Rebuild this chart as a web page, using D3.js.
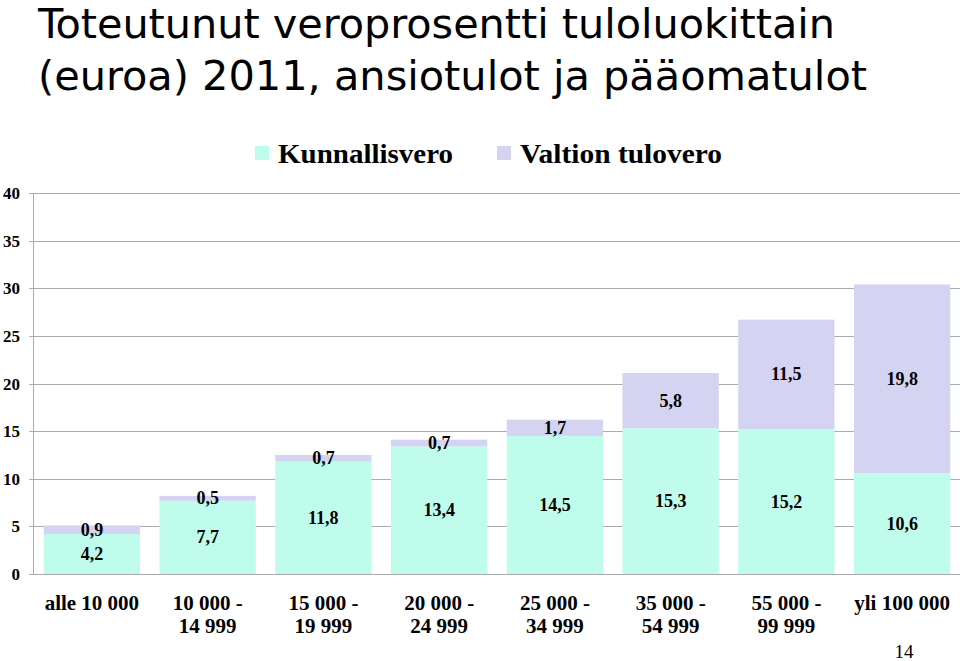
<!DOCTYPE html>
<html><head><meta charset="utf-8">
<script src="https://cdn.jsdelivr.net/npm/d3@7"></script>
<style>body{margin:0;background:#fff}svg{display:block}</style>
</head><body>
<svg id="c" width="960" height="661"></svg>
<script>
const categories = [["alle 10 000"],["10 000 -","14 999"],["15 000 -","19 999"],["20 000 -","24 999"],["25 000 -","34 999"],["35 000 -","54 999"],["55 000 -","99 999"],["yli 100 000"]];
const kunnallisvero = [4.2, 7.7, 11.8, 13.4, 14.5, 15.3, 15.2, 10.6];
const valtion = [0.9, 0.5, 0.7, 0.7, 1.7, 5.8, 11.5, 19.8];
const seriesNames = ["Kunnallisvero", "Valtion tulovero"];
const yTicks = [0, 5, 10, 15, 20, 25, 30, 35, 40];
const titleLines = ["Toteutunut veroprosentti tuloluokittain", "(euroa) 2011, ansiotulot ja pääomatulot"];
const pageNumber = "14";

const colors = ["#c0fcec", "#d4d4f2"];
const svg = d3.select("#c");
const x = d3.scaleBand().domain(d3.range(categories.length)).range([34, 960]).paddingInner(0.168).paddingOuter(0.084);
const y = d3.scaleLinear().domain([0, 40]).range([574, 193]);
const fmt = v => String(v).replace(".", ",");

// title
const tl = [[38, 797], [90, 829]];
titleLines.forEach((t, i) => {
  svg.append("text").attr("x", 38).attr("y", tl[i][0]).attr("textLength", tl[i][1]).attr("lengthAdjust", "spacingAndGlyphs")
    .style("font-family", "'DejaVu Sans Condensed','DejaVu Sans',sans-serif").style("font-size", "40px").attr("fill", "#000").text(t);
});

// gridlines & y axis
const g = svg.append("g");
g.selectAll("line.grid").data(yTicks).join("line").attr("class", "grid")
  .attr("x1", 29).attr("x2", 960).attr("y1", d => Math.round(y(d)) + 0.5).attr("y2", d => Math.round(y(d)) + 0.5)
  .attr("stroke", "#ababab").attr("stroke-width", 1);
g.append("line").attr("x1", 33.5).attr("x2", 33.5).attr("y1", y(40)).attr("y2", y(0)).attr("stroke", "#ababab");
g.selectAll("text.tick").data(yTicks).join("text").attr("class", "tick")
  .attr("x", 20).attr("y", d => y(d) + 6).attr("text-anchor", "end")
  .style("font-family", "'Liberation Serif','Times New Roman',serif").style("font-weight", "bold").style("font-size", "17px")
  .text(d => d);

// stacked bars
const stackData = kunnallisvero.map((k, i) => ({i, k, v: valtion[i]}));
const bars = svg.append("g");
bars.selectAll("rect.k").data(stackData).join("rect").attr("class", "k")
  .attr("x", d => x(d.i)).attr("width", x.bandwidth()).attr("y", d => y(d.k)).attr("height", d => y(0) - y(d.k)).attr("fill", colors[0]);
bars.selectAll("rect.v").data(stackData).join("rect").attr("class", "v")
  .attr("x", d => x(d.i)).attr("width", x.bandwidth()).attr("y", d => y(d.k + d.v)).attr("height", d => y(d.k) - y(d.k + d.v)).attr("fill", colors[1]);
svg.append("line").attr("x1", 29).attr("x2", 960).attr("y1", Math.round(y(0)) + 0.5).attr("y2", Math.round(y(0)) + 0.5).attr("stroke", "#ababab");

const lab = (sel) => sel.attr("text-anchor", "middle")
  .style("font-family", "'Liberation Serif','Times New Roman',serif").style("font-weight", "bold").style("font-size", "18px").attr("fill", "#000");
bars.selectAll("text.kl").data(stackData).join("text").attr("class", "kl").call(lab)
  .attr("x", d => x(d.i) + x.bandwidth() / 2).attr("y", d => y(d.k / 2) + 6).text(d => fmt(d.k));
bars.selectAll("text.vl").data(stackData).join("text").attr("class", "vl").call(lab)
  .attr("x", d => x(d.i) + x.bandwidth() / 2).attr("y", d => y(d.k + d.v / 2) + 6).text(d => fmt(d.v));

// category labels
const cl = svg.append("g");
categories.forEach((lines, i) => {
  lines.forEach((t, j) => {
    cl.append("text").attr("x", x(i) + x.bandwidth() / 2).attr("y", 610 + j * 23).attr("text-anchor", "middle")
      .style("font-family", "'Liberation Serif','Times New Roman',serif").style("font-weight", "bold").style("font-size", "21px")
      .text(t);
  });
});

// legend
const leg = [[255, 278, 175], [497, 520, 202]];
seriesNames.forEach((n, i) => {
  svg.append("rect").attr("x", leg[i][0]).attr("y", 146).attr("width", 14).attr("height", 14).attr("fill", colors[i]);
  svg.append("text").attr("x", leg[i][1]).attr("y", 163).attr("textLength", leg[i][2]).attr("lengthAdjust", "spacingAndGlyphs")
    .style("font-family", "'Liberation Serif','Times New Roman',serif").style("font-weight", "bold").style("font-size", "27px").text(n);
});

svg.append("text").attr("x", 904).attr("y", 658).attr("text-anchor", "middle")
  .style("font-family", "'Liberation Serif','Times New Roman',serif").style("font-size", "19px").text(pageNumber);
</script>
</body></html>
